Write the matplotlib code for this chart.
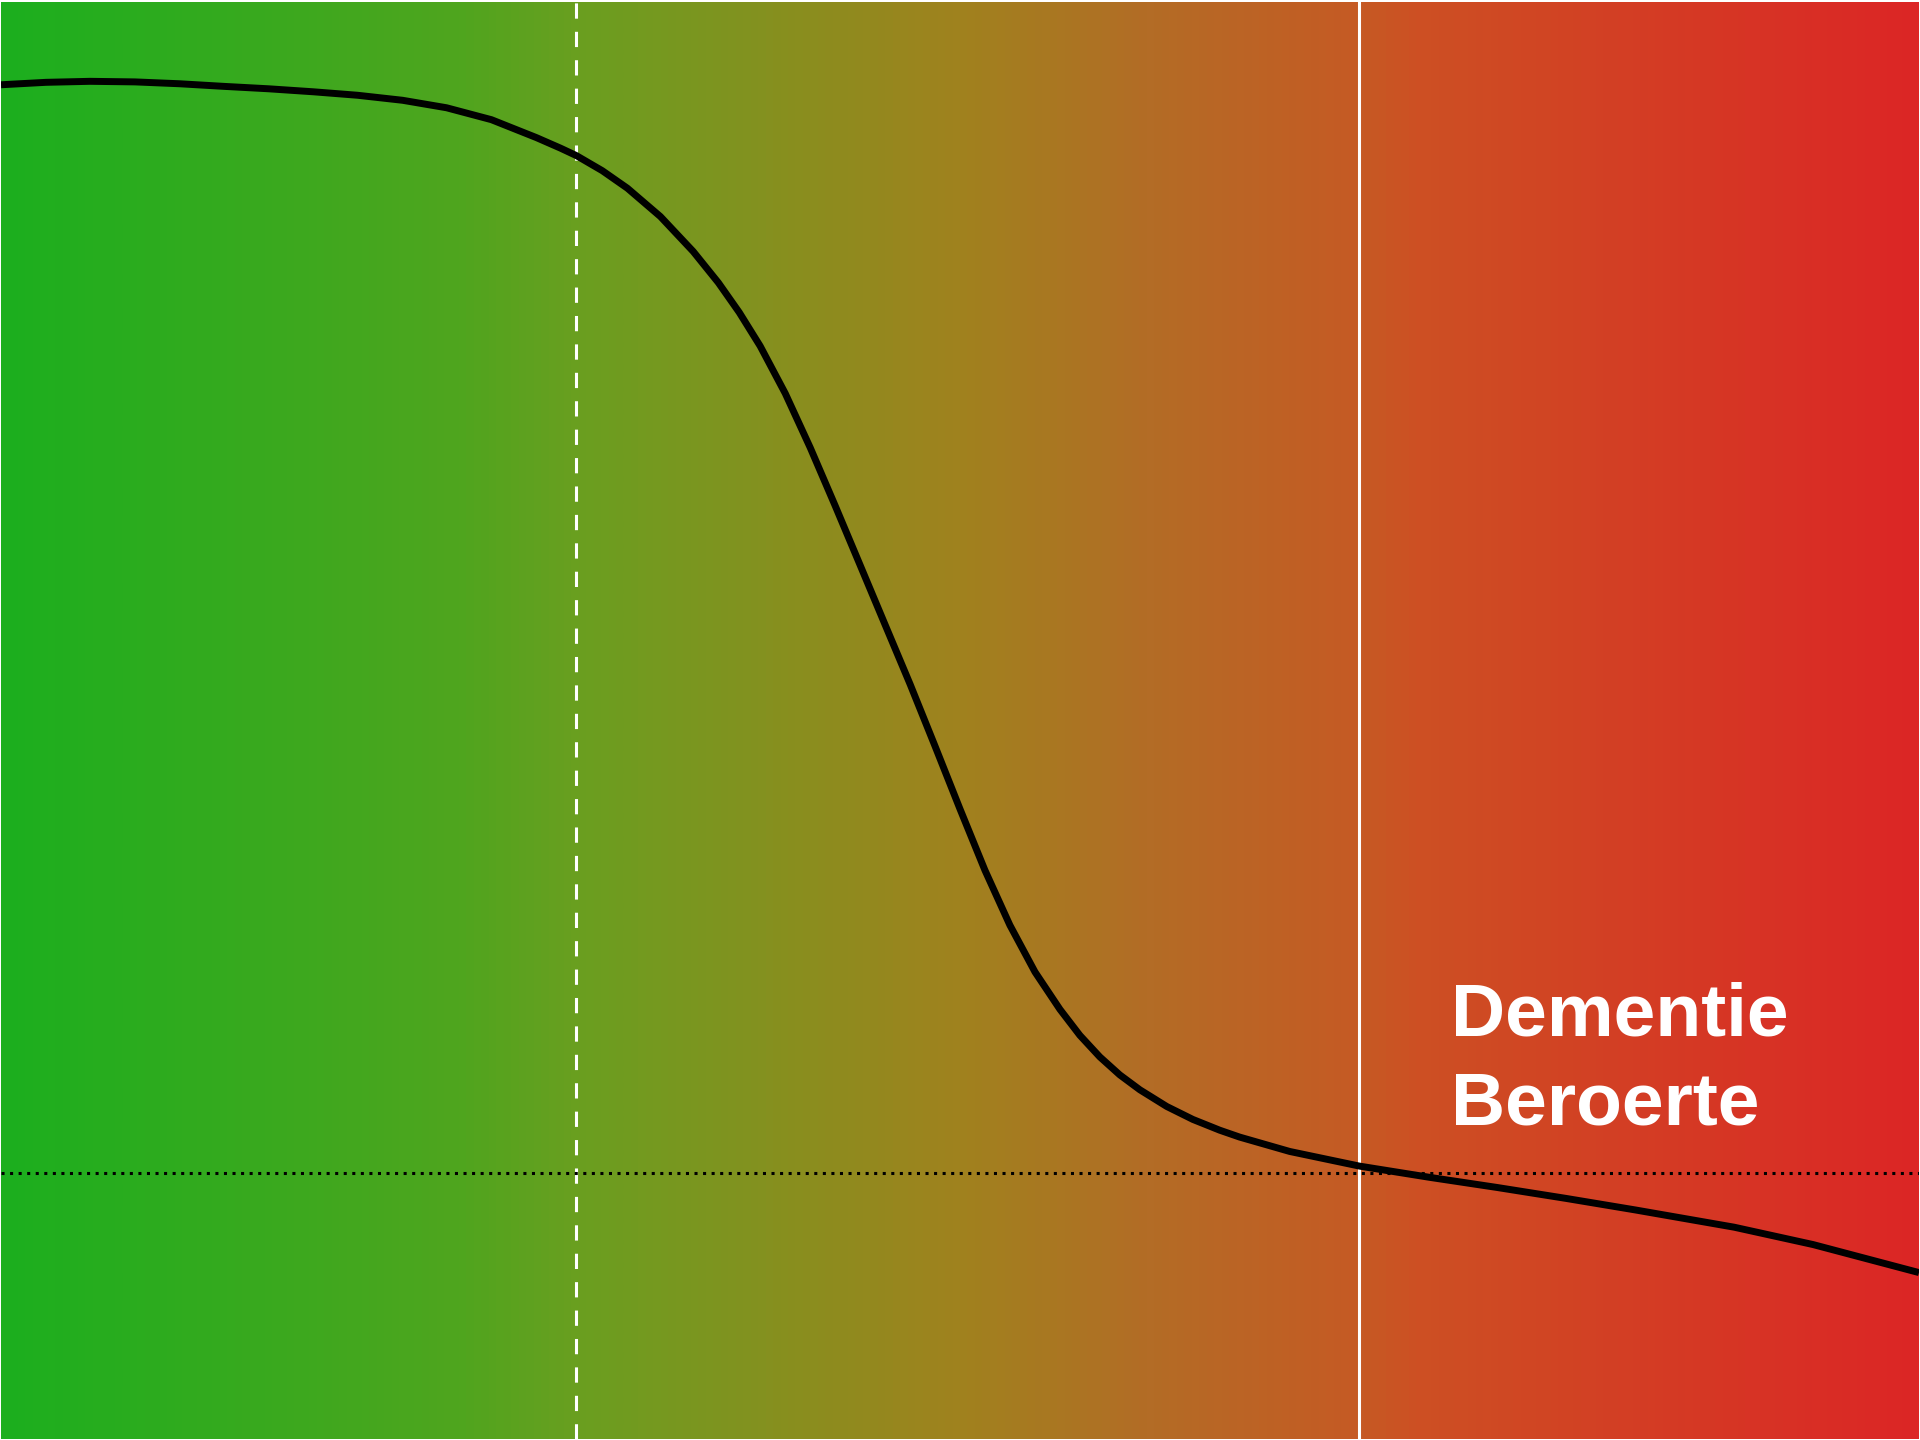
import numpy as np
import matplotlib.pyplot as plt
from matplotlib.colors import LinearSegmentedColormap

# curve (x: 0-100 across, y: 0-100 up)
curve_x = [0.00, 2.34, 4.64, 6.98, 9.32, 11.61, 13.96, 16.30, 18.59, 20.94,
           23.23, 25.57, 27.92, 29.17, 30.00, 31.35, 32.66, 34.38, 36.09,
           37.40, 38.49, 39.58, 40.89, 42.19, 43.49, 44.79, 46.09, 47.40,
           48.70, 50.00, 51.30, 52.60, 53.91, 55.21, 56.25, 57.29, 58.33,
           59.38, 60.78, 62.14, 63.54, 64.58, 67.19, 70.83, 74.48, 78.02,
           81.61, 85.21, 90.36, 94.48, 100.00]
curve_y = [94.24, 94.41, 94.48, 94.44, 94.31, 94.13, 93.96, 93.75, 93.51,
           93.16, 92.64, 91.81, 90.56, 89.83, 89.31, 88.26, 87.04, 85.07,
           82.64, 80.47, 78.40, 76.06, 72.76, 68.99, 64.95, 60.82, 56.68,
           52.52, 48.21, 43.84, 39.58, 35.76, 32.50, 29.90, 28.09, 26.59,
           25.34, 24.30, 23.14, 22.24, 21.49, 21.01, 20.01, 18.99, 18.21,
           17.50, 16.74, 15.94, 14.74, 13.53, 11.58]

dashed_x = 30.0
solid_x = 70.8
threshold_y = 18.5

labels = ["Dementie", "Beroerte"]
label_x = 75.6
label_y = [28.1, 21.9]

# background gradient stops (position, colour)
grad_stops = [(0.0, "#1CAF1E"), (0.24, "#50A51E"), (0.3, "#6A9F20"),
              (0.5, "#A0821E"), (0.6, "#B36C26"), (0.71, "#C65A24"),
              (0.74, "#CD5023"), (1.0, "#DC2626")]


def main():
    fig = plt.figure(figsize=(19.2, 14.4), dpi=100, facecolor="white")
    ax = fig.add_axes([1 / 1920, 1 / 1440, 1918 / 1920, 1437 / 1440])

    cmap = LinearSegmentedColormap.from_list("bg", grad_stops)
    grad = np.linspace(0, 1, 512).reshape(1, -1)
    ax.imshow(grad, cmap=cmap, aspect="auto", extent=[0, 100, 0, 100],
              interpolation="bilinear", zorder=0)

    ax.axvline(dashed_x, color="white", lw=2.2, dashes=(5, 4.3), zorder=2)
    ax.axvline(solid_x, color="white", lw=2.2, zorder=2)
    ax.axhline(threshold_y, color="black", lw=2.2, dashes=(1, 1.8), zorder=3)
    ax.plot(curve_x, curve_y, color="black", lw=5, solid_joinstyle="round",
            solid_capstyle="butt", zorder=4)

    for txt, y in zip(labels, label_y):
        ax.text(label_x, y, txt, color="white", fontsize=54,
                fontweight="bold", family="Liberation Sans",
                ha="left", va="baseline", zorder=5)

    ax.set_xlim(0, 100)
    ax.set_ylim(0, 100)
    ax.set_axis_off()
    fig.savefig("out.png", dpi=100, facecolor="white")


if __name__ == "__main__":
    main()
